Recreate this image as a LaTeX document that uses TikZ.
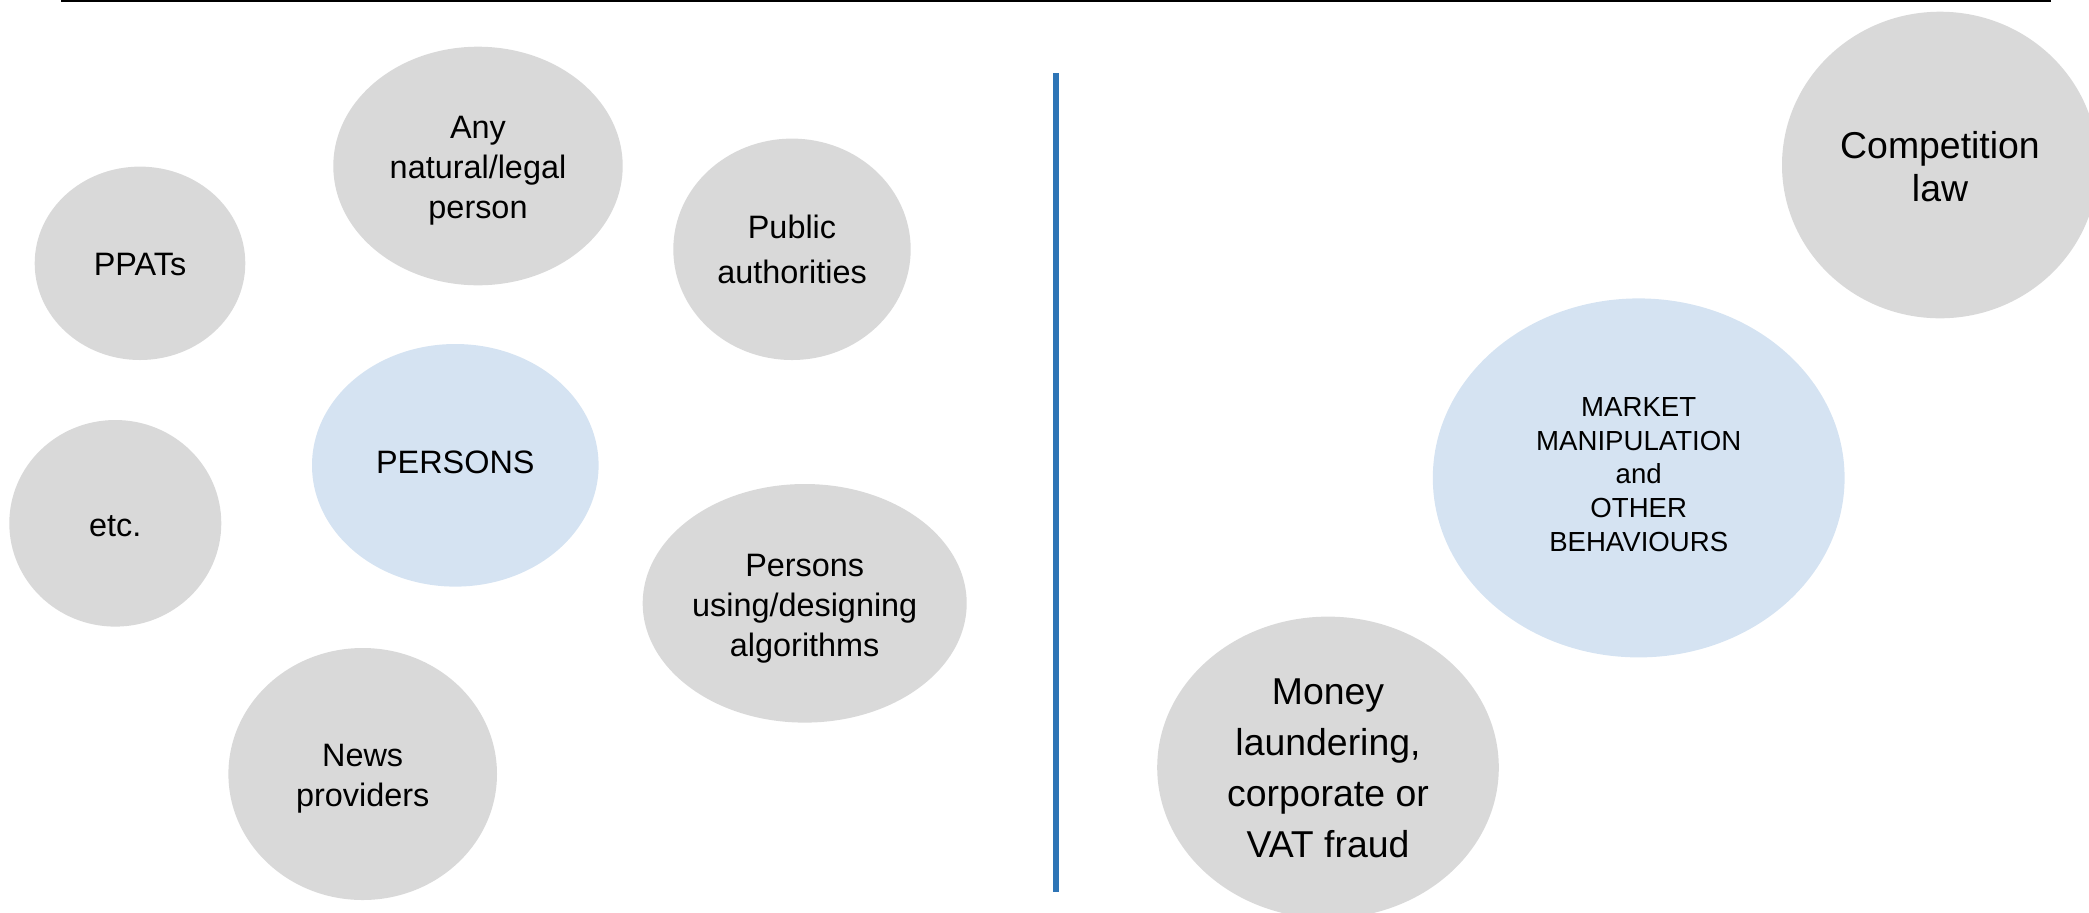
\documentclass[tikz,border=0pt]{standalone}
\usepackage{fontspec}
\setmainfont{Liberation Sans}
\definecolor{bubblegray}{HTML}{D9D9D9}
\definecolor{bubbleblue}{HTML}{D5E3F2}
\definecolor{divblue}{HTML}{2E75B6}
\begin{document}
\begin{tikzpicture}[x=0.5pt,y=-0.5pt,
  bubble/.style={fill=bubblegray,draw=none},
  core/.style={fill=bubbleblue,draw=none},
  lbl/.style={align=center,inner sep=0pt,font=\fontsize{16.2pt}{20pt}\selectfont},
  wlbl/.style={align=center,inner sep=0pt,font=\fontsize{16.2pt}{22.7pt}\selectfont},
  rlbl/.style={align=center,inner sep=0pt,font=\fontsize{18.7pt}{21.8pt}\selectfont},
  mlbl/.style={align=center,inner sep=0pt,font=\fontsize{18.7pt}{25.6pt}\selectfont},
  clbl/.style={align=center,inner sep=0pt,font=\fontsize{13.8pt}{16.9pt}\selectfont}]
\useasboundingbox (0,0) rectangle (2089,912);
% top rule
\coordinate (ruleL) at (61,1);
\coordinate (ruleR) at (2051,1);
\draw[line width=1pt] (ruleL) -- (ruleR);
% divider
\coordinate (divT) at (1056,73);
\coordinate (divB) at (1056,892);
\draw[divblue,line width=3pt] (divT) -- (divB);
% left group
\fill[bubble] (478,166) ellipse [x radius=144.7, y radius=119.3];
\node[lbl] (any) at (478,171) {Any\\natural/legal\\person};
\fill[bubble] (140,263.3) ellipse [x radius=105.3, y radius=96.7];
\node[lbl] (ppat) at (140,264.5) {PPATs};
\fill[bubble] (792,249.3) ellipse [x radius=118.7, y radius=110.7];
\node[wlbl] (pub) at (792,249.3) {Public\\authorities};
\fill[core] (455.3,465.3) ellipse [x radius=143.3, y radius=121.3];
\node[lbl] (pers) at (455.3,462) {PERSONS};
\fill[bubble] (115.3,523.3) ellipse [x radius=106, y radius=103.3];
\node[lbl] (etc) at (115.3,526) {etc.};
\fill[bubble] (804.7,603.3) ellipse [x radius=162, y radius=119.3];
\node[lbl] (algo) at (804.7,608.5) {Persons\\using/designing\\algorithms};
\fill[bubble] (362.7,774) ellipse [x radius=134.3, y radius=126];
\node[lbl] (news) at (362.7,778.5) {News\\providers};
% right group
\fill[bubble] (1940,165) ellipse [x radius=158, y radius=153.3];
\node[rlbl] (comp) at (1940,166.5) {Competition\\law};
\fill[core] (1638.7,477.9) ellipse [x radius=205.9, y radius=179.5];
\node[clbl] (mkt) at (1638.7,474.5) {MARKET\\MANIPULATION\\and\\OTHER\\BEHAVIOURS};
\fill[bubble] (1328,767.5) ellipse [x radius=170.8, y radius=150.9];
\node[mlbl] (money) at (1328,768.5) {Money\\laundering,\\corporate or\\VAT fraud};
\end{tikzpicture}
\end{document}
